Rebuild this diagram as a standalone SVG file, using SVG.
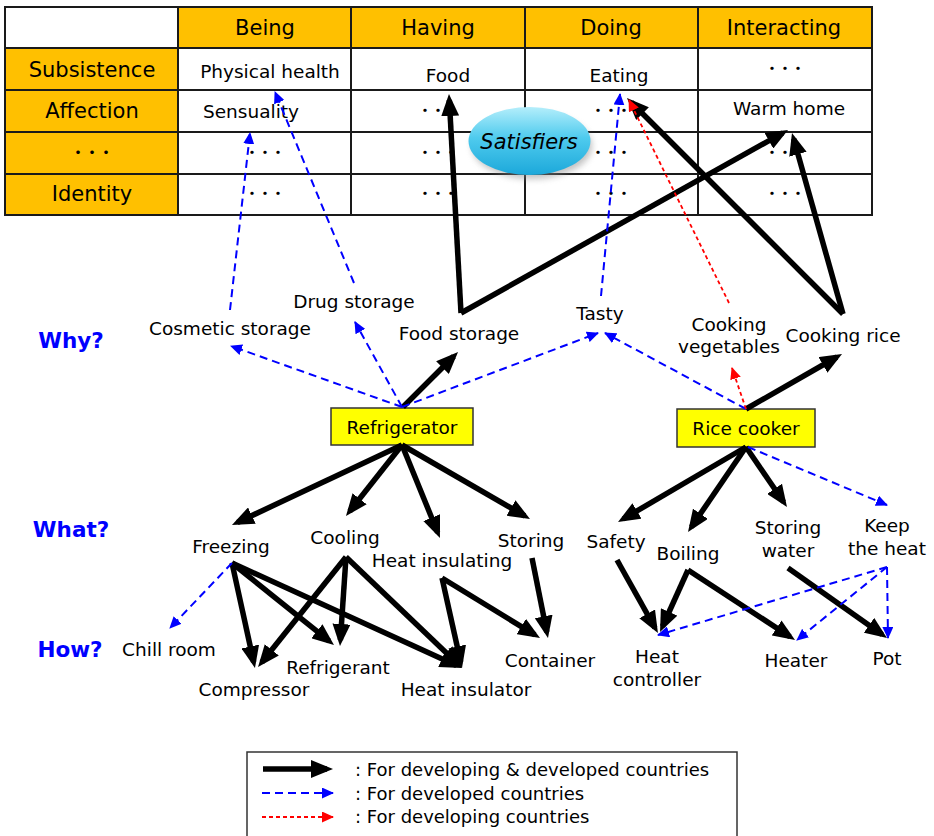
<svg xmlns="http://www.w3.org/2000/svg" width="934" height="836" viewBox="0 0 934 836">
<style>
text{font-family:"DejaVu Sans",Verdana,sans-serif;fill:#000}
.hd{font-size:21px;text-anchor:middle}
.cell{font-size:18.5px;text-anchor:middle}
.lbl{font-size:18.5px;text-anchor:middle}
.q{font-size:21.5px;font-weight:bold;fill:#0000FF;text-anchor:middle}
.dots{font-family:"Noto Sans CJK JP",sans-serif;font-size:13px;font-weight:bold;text-anchor:middle}
.org{fill:#FFC000}
.grid{stroke:#1a1a1a;stroke-width:2;fill:none}
.box{fill:#FFFF00;stroke:#333;stroke-width:1.5}
.bk{stroke:#000;stroke-width:5.5;fill:none;marker-end:url(#ab)}
.bl{stroke:#0000FF;stroke-width:2;stroke-dasharray:8,5;fill:none;marker-end:url(#abl)}
.rd{stroke:#FF0000;stroke-width:1.8;stroke-dasharray:4,3;fill:none;marker-end:url(#ard)}
.leg{font-size:18px}
</style>
<defs>
<marker id="ab" markerUnits="userSpaceOnUse" markerWidth="22" markerHeight="18" viewBox="0 0 22 18" refX="16" refY="9" orient="auto"><path d="M0,0 L22,9 L0,18 z" fill="#000"/></marker>
<marker id="abl" markerUnits="userSpaceOnUse" markerWidth="12" markerHeight="11" viewBox="0 0 12 11" refX="11" refY="5.5" orient="auto"><path d="M0,0 L12,5.5 L0,11 z" fill="#0000FF"/></marker>
<marker id="ard" markerUnits="userSpaceOnUse" markerWidth="12" markerHeight="11" viewBox="0 0 12 11" refX="11" refY="5.5" orient="auto"><path d="M0,0 L12,5.5 L0,11 z" fill="#FF0000"/></marker>
<linearGradient id="sat" x1="0" y1="0" x2="0" y2="1">
<stop offset="0" stop-color="#B4EEFB"/><stop offset="0.45" stop-color="#4FCBEE"/><stop offset="1" stop-color="#1CA8DA"/>
</linearGradient>
<filter id="sh" x="-20%" y="-20%" width="140%" height="160%"><feGaussianBlur stdDeviation="3"/></filter>
</defs>
<rect width="934" height="836" fill="#fff"/>

<g id="table">
<rect class="org" x="178" y="7" width="694" height="41"/>
<rect class="org" x="5" y="48" width="173" height="167"/>
<rect class="grid" x="5" y="7" width="867" height="208"/>
<path class="grid" d="M178,7 V215 M351,7 V215 M525,7 V215 M698,7 V215 M5,48 H872 M5,90 H872 M5,132 H872 M5,174 H872"/>
<text class="hd" x="265" y="35">Being</text>
<text class="hd" x="438" y="35">Having</text>
<text class="hd" x="611" y="35">Doing</text>
<text class="hd" x="784" y="35">Interacting</text>
<text class="hd" x="92" y="77">Subsistence</text>
<text class="hd" x="92" y="118">Affection</text>
<text class="dots" x="92" y="157" style="font-size:14px">・・・</text>
<text class="hd" x="92" y="201">Identity</text>
<text class="cell" x="270" y="78">Physical health</text>
<text class="cell" x="448" y="82">Food</text>
<text class="cell" x="619" y="82">Eating</text>
<text class="dots" x="785" y="73">・・・</text>
<text class="cell" x="251" y="118">Sensuality</text>
<text class="dots" x="438" y="115">・・・</text>
<text class="dots" x="611" y="115">・・・</text>
<text class="cell" x="789" y="115">Warm home</text>
<text class="dots" x="265" y="157">・・・</text>
<text class="dots" x="438" y="157">・・・</text>
<text class="dots" x="611" y="157">・・・</text>
<text class="dots" x="785" y="157">・・・</text>
<text class="dots" x="265" y="198">・・・</text>
<text class="dots" x="438" y="198">・・・</text>
<text class="dots" x="611" y="198">・・・</text>
<text class="dots" x="785" y="198">・・・</text>
</g>

<g id="satisfiers">
<ellipse cx="532" cy="146" rx="60" ry="33" fill="#888" opacity="0.5" filter="url(#sh)"/>
<ellipse cx="529.5" cy="141" rx="61" ry="34" fill="url(#sat)"/>
<text x="529" y="149" style="font-size:21px;font-style:italic;text-anchor:middle">Satisfiers</text>
</g>

<g id="questions">
<text class="q" x="71" y="348">Why?</text>
<text class="q" x="71" y="537">What?</text>
<text class="q" x="70" y="657">How?</text>
</g>

<g id="n-cosmetic"><text class="lbl" x="230" y="335">Cosmetic storage</text></g>
<g id="n-drug"><text class="lbl" x="354" y="308">Drug storage</text></g>
<g id="n-food"><text class="lbl" x="459" y="340">Food storage</text></g>
<g id="n-tasty"><text class="lbl" x="600" y="320">Tasty</text></g>
<g id="n-cookveg"><text class="lbl" x="729" y="331">Cooking</text><text class="lbl" x="729" y="353">vegetables</text></g>
<g id="n-cookrice"><text class="lbl" x="843" y="342">Cooking rice</text></g>
<g id="n-refrigerator"><rect class="box" x="331" y="408" width="142" height="37"/><text class="lbl" x="402" y="434">Refrigerator</text></g>
<g id="n-ricecooker"><rect class="box" x="677" y="409" width="138" height="38"/><text class="lbl" x="746" y="435">Rice cooker</text></g>
<g id="n-freezing"><text class="lbl" x="231" y="553">Freezing</text></g>
<g id="n-cooling"><text class="lbl" x="345" y="544">Cooling</text></g>
<g id="n-heatins"><text class="lbl" x="442" y="567">Heat insulating</text></g>
<g id="n-storing"><text class="lbl" x="531" y="547">Storing</text></g>
<g id="n-safety"><text class="lbl" x="616" y="548">Safety</text></g>
<g id="n-boiling"><text class="lbl" x="688" y="560">Boiling</text></g>
<g id="n-storwater"><text class="lbl" x="788" y="534">Storing</text><text class="lbl" x="788" y="557">water</text></g>
<g id="n-keepheat"><text class="lbl" x="887" y="532">Keep</text><text class="lbl" x="887" y="555">the heat</text></g>
<g id="n-chill"><text class="lbl" x="169" y="656">Chill room</text></g>
<g id="n-compressor"><text class="lbl" x="254" y="696">Compressor</text></g>
<g id="n-refrigerant"><text class="lbl" x="338" y="674">Refrigerant</text></g>
<g id="n-heatinsulator"><text class="lbl" x="466" y="696">Heat insulator</text></g>
<g id="n-container"><text class="lbl" x="550" y="667">Container</text></g>
<g id="n-heatctrl"><text class="lbl" x="657" y="663">Heat</text><text class="lbl" x="657" y="686">controller</text></g>
<g id="n-heater"><text class="lbl" x="796" y="667">Heater</text></g>
<g id="n-pot"><text class="lbl" x="887" y="665">Pot</text></g>

<g id="connectors">
<path class="bk" d="M403,407 L453.8,356.2"/>
<path class="bk" d="M461,313 L449.3,100"/>
<path class="bk" d="M461,313 L782.8,132.9"/>
<path class="bk" d="M746,409 L836.8,357"/>
<path class="bk" d="M843,314 L631.2,102.2"/>
<path class="bk" d="M843,314 L793.6,138.8"/>
<path class="bk" d="M402,445 L237.4,522.4"/>
<path class="bk" d="M402,445 L349.7,511.3"/>
<path class="bk" d="M402,445 L437.7,532.5"/>
<path class="bk" d="M402,445 L524.8,516"/>
<path class="bk" d="M232,563 L253.7,662.1"/>
<path class="bk" d="M232,563 L329.3,641.2"/>
<path class="bk" d="M232,563 L456.5,665.5"/>
<path class="bk" d="M346,557 L261.8,662.3"/>
<path class="bk" d="M346,557 L340.4,640"/>
<path class="bk" d="M346,557 L457.7,663.8"/>
<path class="bk" d="M442,578 L460.7,662.1"/>
<path class="bk" d="M442,578 L534.9,634.9"/>
<path class="bk" d="M532,558 L546.8,632.1"/>
<path class="bk" d="M746,447 L623.2,519"/>
<path class="bk" d="M746,447 L691.4,527"/>
<path class="bk" d="M746,447 L783.6,502"/>
<path class="bk" d="M617,560 L655,627.8"/>
<path class="bk" d="M688,570 L662.5,626.5"/>
<path class="bk" d="M688,570 L790,636.7"/>
<path class="bk" d="M788,568 L882.1,634.5"/>
<path class="bl" d="M402,407 L231,346"/>
<path class="bl" d="M402,407 L355,322"/>
<path class="bl" d="M402,407 L598,333"/>
<path class="bl" d="M746,409 L605,333"/>
<path class="bl" d="M230,310 L250,133"/>
<path class="bl" d="M354,283 L275,92"/>
<path class="bl" d="M601,296 L620,94"/>
<path class="bl" d="M232,563 L170,628"/>
<path class="bl" d="M748,447 L887,505"/>
<path class="bl" d="M887,567 L658,635"/>
<path class="bl" d="M887,567 L797,640"/>
<path class="bl" d="M887,567 L888,638"/>
<path class="rd" d="M746,409 L732,368"/>
<path class="rd" d="M729,303 L629,100"/>
</g>

<g id="legend">
<rect x="247" y="752" width="490" height="100" fill="#fff" stroke="#333" stroke-width="1.5"/>
<path class="bk" d="M263,769 L327,769"/>
<path class="bl" d="M262,793 L333,793"/>
<path class="rd" d="M262,817 L333,817"/>
<text class="leg" x="355" y="776">: For developing &amp; developed countries</text>
<text class="leg" x="355" y="800">: For developed countries</text>
<text class="leg" x="355" y="823">: For developing countries</text>
</g>
</svg>
